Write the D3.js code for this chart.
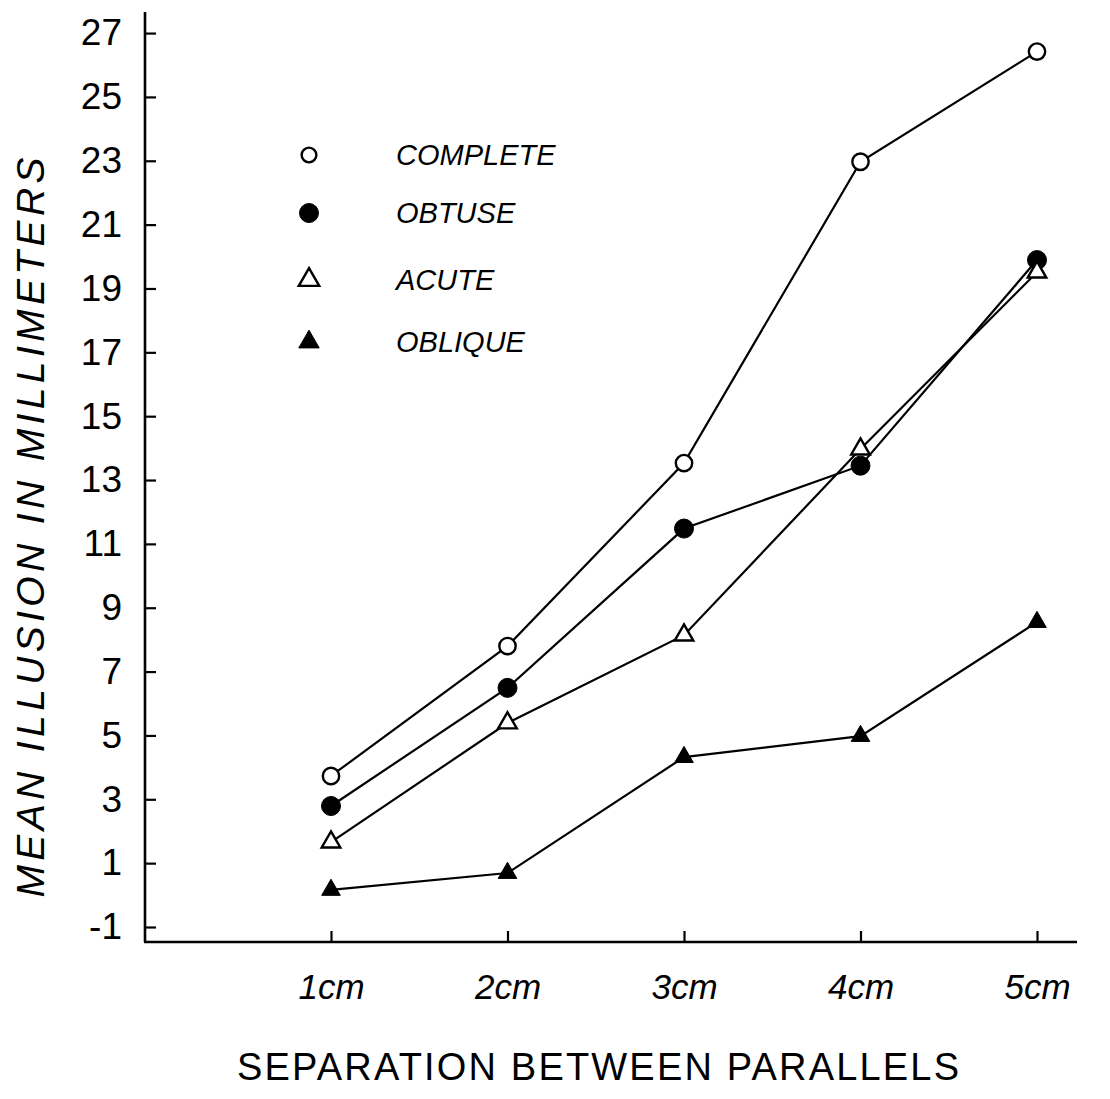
<!DOCTYPE html>
<html>
<head>
<meta charset="utf-8">
<script src="https://cdn.jsdelivr.net/npm/d3@7/dist/d3.min.js"></script>
<style>
  html, body { margin: 0; padding: 0; background: #fff; }
  svg { display: block; }
  text { font-family: "Liberation Sans", Arial, sans-serif; fill: #000; }
</style>
</head>
<body>
<svg id="chart" width="1110" height="1099"></svg>
<script>
// ---- data ----
const categories = ["1cm", "2cm", "3cm", "4cm", "5cm"];
const xValues = [1, 2, 3, 4, 5];
const seriesNames = ["COMPLETE", "OBTUSE", "ACUTE", "OBLIQUE"];
const complete = [3.73, 7.80, 13.53, 22.97, 26.42];
const obtuse   = [2.79, 6.49, 11.48, 13.45, 19.89];
const acute    = [1.66, 5.39, 8.14, 13.97, 19.51];
const oblique  = [0.16, 0.69, 4.32, 4.98, 8.55];
const yTicks = [-1, 1, 3, 5, 7, 9, 11, 13, 15, 17, 19, 21, 23, 25, 27];
const yTitle = "MEAN ILLUSION IN MILLIMETERS";
const xTitle = "SEPARATION BETWEEN PARALLELS";

const series = [
  { name: seriesNames[0], values: complete, shape: "circle",   filled: false },
  { name: seriesNames[1], values: obtuse,   shape: "circle",   filled: true  },
  { name: seriesNames[2], values: acute,    shape: "triangle", filled: false },
  { name: seriesNames[3], values: oblique,  shape: "triangle", filled: true  }
];

// ---- layout ----
const svg = d3.select("#chart");
const plotLeft = 145, plotRight = 1077, plotTop = 12, plotBottom = 942;

const x = d3.scaleLinear().domain([1, 5]).range([331, 1037]);
const y = d3.scaleLinear().domain([-1.47, 27.66]).range([plotBottom, plotTop]);

// axes lines
svg.append("line")
  .attr("x1", plotLeft).attr("x2", plotLeft)
  .attr("y1", plotTop).attr("y2", plotBottom)
  .attr("stroke", "#000").attr("stroke-width", 2.6);
svg.append("line")
  .attr("x1", plotLeft - 1).attr("x2", plotRight)
  .attr("y1", plotBottom).attr("y2", plotBottom)
  .attr("stroke", "#000").attr("stroke-width", 2.6);

// y axis
const yAxis = d3.axisLeft(y).tickValues(yTicks).tickSize(-11).tickPadding(23)
  .tickFormat(d => d < 0 ? "-" + Math.abs(d) : String(d));
const gy = svg.append("g").attr("transform", `translate(${plotLeft},0)`).call(yAxis);
gy.select(".domain").remove();
gy.selectAll(".tick line").attr("stroke", "#000").attr("stroke-width", 2.2);
gy.selectAll(".tick text")
  .style("font-family", "'Liberation Sans', Arial, sans-serif")
  .style("font-size", "37px")
  .attr("fill", "#000");

// x axis
const xAxis = d3.axisBottom(x).tickValues(xValues).tickSize(-11).tickPadding(32)
  .tickFormat((d, i) => categories[i]);
const gx = svg.append("g").attr("transform", `translate(0,${plotBottom})`).call(xAxis);
gx.select(".domain").remove();
gx.selectAll(".tick line").attr("stroke", "#000").attr("stroke-width", 2.2);
gx.selectAll(".tick text")
  .style("font-family", "'Liberation Sans', Arial, sans-serif")
  .style("font-size", "35px")
  .style("font-style", "italic")
  .attr("fill", "#000");

// axis titles
svg.append("text")
  .attr("transform", `translate(44,${(155 + 900) / 2}) rotate(-90)`)
  .attr("text-anchor", "middle")
  .attr("textLength", 740)
  .attr("lengthAdjust", "spacing")
  .style("font-size", "39px")
  .style("font-style", "italic")
  .text(yTitle);

svg.append("text")
  .attr("x", (237 + 959) / 2)
  .attr("y", 1080)
  .attr("text-anchor", "middle")
  .attr("textLength", 722)
  .attr("lengthAdjust", "spacing")
  .style("font-size", "38px")
  .text(xTitle);

// lines
const line = d3.line().x((d, i) => x(xValues[i])).y(d => y(d));
series.forEach(s => {
  svg.append("path")
    .datum(s.values)
    .attr("d", line)
    .attr("fill", "none")
    .attr("stroke", "#000")
    .attr("stroke-width", 2.2);
});

function drawMarker(g, shape, filled, cx, cy, scale) {
  if (shape === "circle") {
    g.append("circle")
      .attr("cx", cx).attr("cy", cy)
      .attr("r", filled ? 9.5 * scale : 8.2 * scale)
      .attr("fill", filled ? "#000" : "#fff")
      .attr("stroke", "#000")
      .attr("stroke-width", filled ? 1 : 2.4);
  } else {
    g.append("path")
      .attr("d", d3.symbol(d3.symbolTriangle, 150 * scale * scale)())
      .attr("transform", `translate(${cx},${cy})`)
      .attr("fill", filled ? "#000" : "#fff")
      .attr("stroke", "#000")
      .attr("stroke-width", filled ? 1 : 2.4)
      .attr("stroke-linejoin", "miter");
  }
}

// markers
const gm = svg.append("g");
series.forEach(s => {
  s.values.forEach((v, i) => drawMarker(gm, s.shape, s.filled, x(xValues[i]), y(v), 1));
});

// legend
const legendY = [155, 213, 280, 342];
const gl = svg.append("g");
series.forEach((s, i) => {
  const scale = s.shape === "circle" ? (s.filled ? 1.0 : 0.9) : 1.1;
  drawMarker(gl, s.shape, s.filled, 309, legendY[i], scale);
  gl.append("text")
    .attr("x", 396)
    .attr("y", legendY[i])
    .attr("dy", "0.36em")
    .style("font-size", "29px")
    .style("font-style", "italic")
    .text(s.name);
});
</script>
</body>
</html>
